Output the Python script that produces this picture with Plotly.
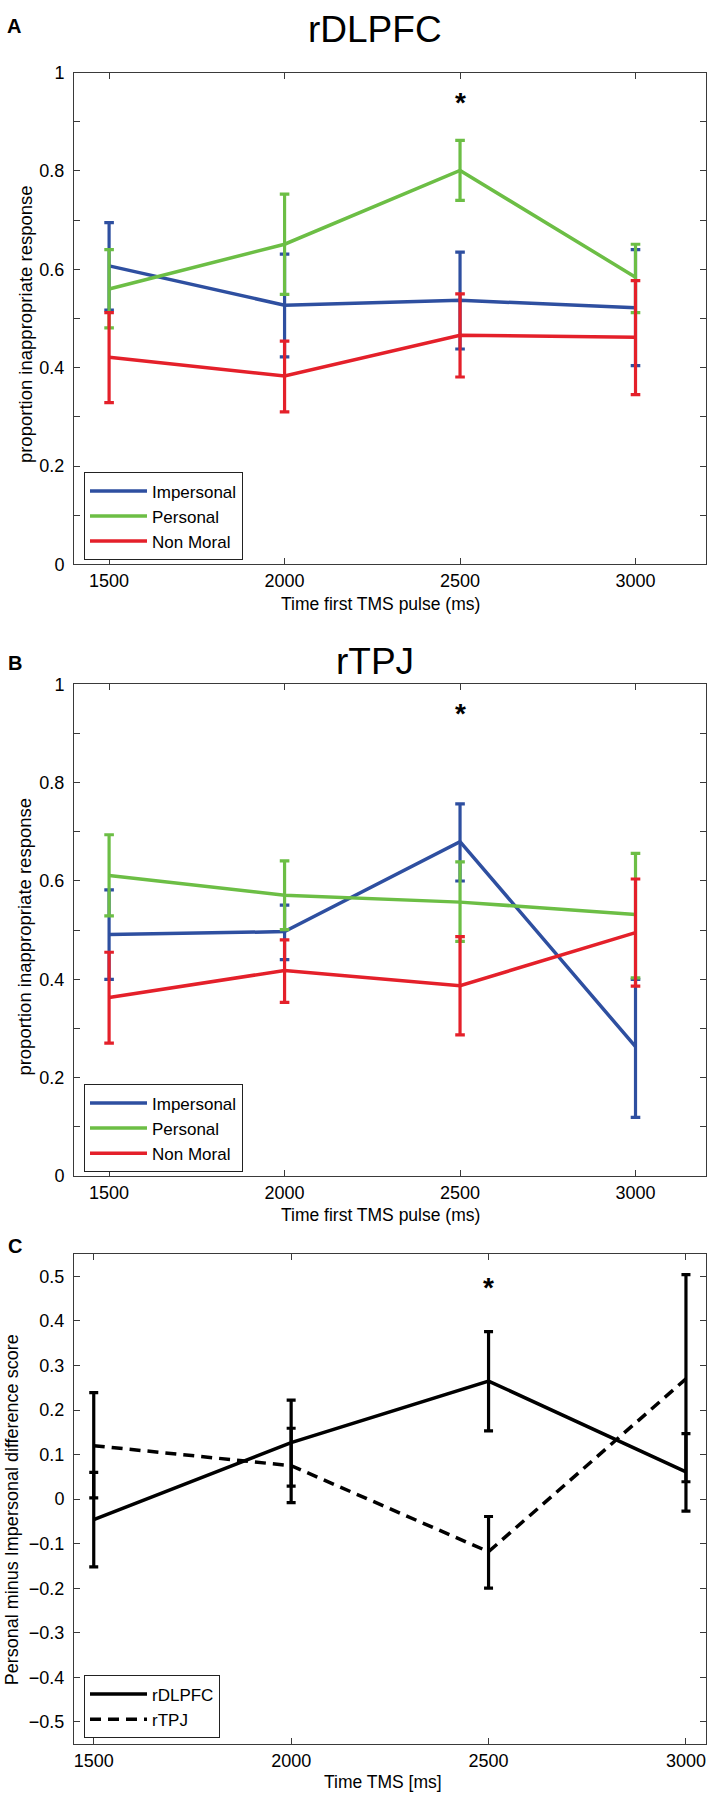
import plotly.graph_objects as go

# ---------------- data ----------------
times = [1500, 2000, 2500, 3000]
series_names = ["Impersonal", "Personal", "Non Moral"]
series_colors = ["#2E4FA0", "#6CBE45", "#E4202A"]

# Panel A (rDLPFC): means, upper and lower error-bar ends
a_imp_mean = [0.607, 0.527, 0.537, 0.522]
a_imp_hi = [0.695, 0.631, 0.635, 0.640]
a_imp_lo = [0.517, 0.422, 0.438, 0.404]
a_per_mean = [0.560, 0.651, 0.801, 0.584]
a_per_hi = [0.640, 0.753, 0.862, 0.651]
a_per_lo = [0.481, 0.549, 0.740, 0.512]
a_non_mean = [0.421, 0.383, 0.466, 0.462]
a_non_hi = [0.512, 0.454, 0.550, 0.577]
a_non_lo = [0.329, 0.310, 0.381, 0.345]

# Panel B (rTPJ)
b_imp_mean = [0.491, 0.497, 0.680, 0.263]
b_imp_hi = [0.582, 0.551, 0.757, 0.400]
b_imp_lo = [0.400, 0.440, 0.600, 0.119]
b_per_mean = [0.611, 0.571, 0.557, 0.532]
b_per_hi = [0.694, 0.641, 0.639, 0.656]
b_per_lo = [0.529, 0.501, 0.477, 0.403]
b_non_mean = [0.363, 0.418, 0.387, 0.495]
b_non_hi = [0.455, 0.480, 0.487, 0.604]
b_non_lo = [0.270, 0.353, 0.287, 0.386]

# Panel C: Personal minus Impersonal difference score
c_names = ["rDLPFC", "rTPJ"]
c_dl_mean = [-0.046, 0.127, 0.265, 0.061]
c_dl_hi = [0.060, 0.222, 0.376, 0.147]
c_dl_lo = [-0.152, 0.029, 0.153, -0.027]
c_tp_mean = [0.120, 0.075, -0.118, 0.270]
c_tp_hi = [0.239, 0.159, -0.039, 0.504]
c_tp_lo = [0.003, -0.008, -0.200, 0.039]

# significance markers (x, y)
star_ab = [2500, 0.94]
star_c = [2500, 0.474]

# tick labels
ab_ytickvals = [0, 0.1, 0.2, 0.3, 0.4, 0.5, 0.6, 0.7, 0.8, 0.9, 1.0]
ab_yticktext = ["0", "", "0.2", "", "0.4", "", "0.6", "", "0.8", "", "1"]
c_ytickvals = [-0.5, -0.4, -0.3, -0.2, -0.1, 0, 0.1, 0.2, 0.3, 0.4, 0.5]
c_yticktext = ["\u22120.5", "\u22120.4", "\u22120.3", "\u22120.2", "\u22120.1", "0",
               "0.1", "0.2", "0.3", "0.4", "0.5"]
xtick_text = ["1500", "2000", "2500", "3000"]

# ---------------- layout helpers ----------------
W, H = 708, 1805
FONT = "Liberation Sans, Arial, sans-serif"


def px_x(p):
    return p / W


def px_y(p):
    return 1 - p / H


fig = go.Figure()


def add_series(mean, hi, lo, name, color, xa, ya, legend, dash="solid", cap=4.8):
    fig.add_trace(go.Scatter(
        x=times, y=mean, name=name, mode="lines",
        line=dict(color=color, width=3.5, dash=dash),
        error_y=dict(type="data", symmetric=False,
                     array=[h - m for h, m in zip(hi, mean)],
                     arrayminus=[m - l for m, l in zip(mean, lo)],
                     color=color, thickness=3.2, width=cap),
        xaxis=xa, yaxis=ya, legend=legend,
    ))


a_sets = [(a_imp_mean, a_imp_hi, a_imp_lo), (a_per_mean, a_per_hi, a_per_lo),
          (a_non_mean, a_non_hi, a_non_lo)]
b_sets = [(b_imp_mean, b_imp_hi, b_imp_lo), (b_per_mean, b_per_hi, b_per_lo),
          (b_non_mean, b_non_hi, b_non_lo)]
for (m, h, l), n, c in zip(a_sets, series_names, series_colors):
    add_series(m, h, l, n, c, "x", "y", "legend")
for (m, h, l), n, c in zip(b_sets, series_names, series_colors):
    add_series(m, h, l, n, c, "x2", "y2", "legend2")
add_series(c_dl_mean, c_dl_hi, c_dl_lo, c_names[0], "black", "x3", "y3", "legend3", cap=4.5)
add_series(c_tp_mean, c_tp_hi, c_tp_lo, c_names[1], "black", "x3", "y3", "legend3",
           dash="11px,7px", cap=4.5)

axis_common = dict(
    showline=True, linecolor="#3a3a3a", linewidth=1, mirror="ticks",
    ticks="inside", ticklen=6, tickwidth=1, tickcolor="#3a3a3a",
    showgrid=False, zeroline=False,
    tickfont=dict(family=FONT, size=18, color="black"),
)

xdom = [px_x(74.0), px_x(705.7)]
ydom_a = [px_y(560.6), px_y(63.3)]
ydom_b = [px_y(1179.0), px_y(681.9)]
ydom_c = [px_y(1753.6), px_y(1258.0)]

fig.update_layout(
    width=W, height=H,
    margin=dict(l=0, r=0, t=0, b=0),
    paper_bgcolor="white", plot_bgcolor="white",
    font=dict(family=FONT, size=18, color="black"),
    xaxis=dict(domain=xdom, anchor="y", range=[1400, 3200],
               tickvals=times, ticktext=xtick_text, **axis_common),
    yaxis=dict(domain=ydom_a, anchor="x", range=[0, 1],
               tickvals=ab_ytickvals, ticktext=ab_yticktext,
               ticklabelstandoff=5, **axis_common),
    xaxis2=dict(domain=xdom, anchor="y2", range=[1400, 3200],
                tickvals=times, ticktext=xtick_text, **axis_common),
    yaxis2=dict(domain=ydom_b, anchor="x2", range=[0, 1],
                tickvals=ab_ytickvals, ticktext=ab_yticktext,
                ticklabelstandoff=5, **axis_common),
    xaxis3=dict(domain=xdom, anchor="y3", range=[1450, 3050],
                tickvals=times, ticktext=xtick_text, **axis_common),
    yaxis3=dict(domain=ydom_c, anchor="x3", range=[-0.55, 0.55],
                tickvals=c_ytickvals, ticktext=c_yticktext,
                ticklabelstandoff=5, **axis_common),
    showlegend=True,
)

legend_common = dict(
    xanchor="left", yanchor="middle", bgcolor="white",
    bordercolor="#222", borderwidth=1,
    font=dict(family=FONT, size=17, color="black"),
    itemwidth=57, tracegroupgap=0,
)
fig.update_layout(
    legend=dict(x=px_x(84), y=px_y(512), **legend_common),
    legend2=dict(x=px_x(84), y=px_y(1131), **legend_common),
    legend3=dict(x=px_x(84), y=px_y(1716), **legend_common),
)

ann = []
# panel titles and letters
ann.append(dict(text="rDLPFC", x=px_x(375), y=px_y(20), font=dict(size=37)))
ann.append(dict(text="rTPJ", x=px_x(375), y=px_y(659), font=dict(size=37)))
ann.append(dict(text="<b>A</b>", x=px_x(14), y=px_y(16), font=dict(size=20)))
ann.append(dict(text="<b>B</b>", x=px_x(15), y=px_y(660), font=dict(size=20)))
ann.append(dict(text="<b>C</b>", x=px_x(15), y=px_y(1250), font=dict(size=20)))
# axis titles
ann.append(dict(text="Time first TMS pulse (ms)", x=px_x(380), y=px_y(600.5), font=dict(size=17.5)))
ann.append(dict(text="Time first TMS pulse (ms)", x=px_x(380), y=px_y(1219), font=dict(size=17.5)))
ann.append(dict(text="Time TMS [ms]", x=px_x(383), y=px_y(1792), font=dict(size=17.5)))
ann.append(dict(text="proportion inappropriate response", x=px_x(25), y=px_y(317.6),
                textangle=-90, font=dict(size=18.5)))
ann.append(dict(text="proportion inappropriate response", x=px_x(25), y=px_y(937),
                textangle=-90, font=dict(size=18.5)))
ann.append(dict(text="Personal minus Impersonal difference score", x=px_x(12), y=px_y(1517),
                textangle=-90, font=dict(size=18)))
for a in ann:
    a.update(xref="paper", yref="paper", showarrow=False, xanchor="center", yanchor="middle")
    a["font"].update(family=FONT, color="black")

# asterisks in data coordinates
for xr, yr, pos in [("x", "y", star_ab), ("x2", "y2", star_ab), ("x3", "y3", star_c)]:
    ann.append(dict(text="<b>*</b>", x=pos[0], y=pos[1], xref=xr, yref=yr, showarrow=False,
                    font=dict(family=FONT, size=28, color="black")))

fig.update_layout(annotations=ann)

fig.write_html(
    "out.html",
    config=dict(displayModeBar=False),
    post_script="document.body.style.margin='0';document.body.style.overflow='hidden';",
)
